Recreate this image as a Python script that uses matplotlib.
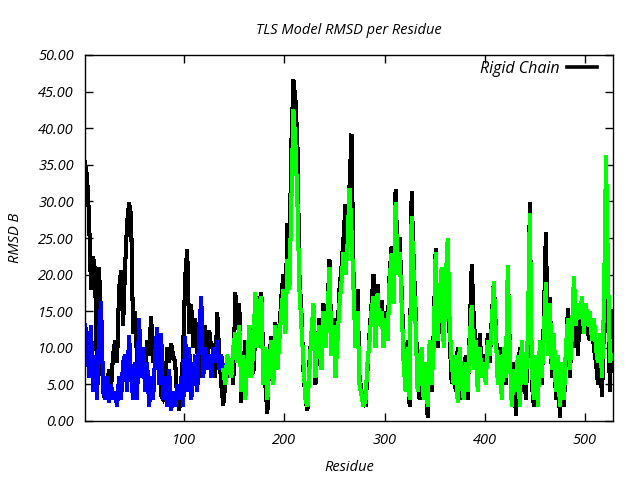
import numpy as np
import matplotlib
matplotlib.use("Agg")
import matplotlib.pyplot as plt
from matplotlib.ticker import FormatStrFormatter, MultipleLocator

# RMSD values, every second residue
black_rmsd = [
    35.4, 33.5, 28, 18, 22.5, 20.5, 6, 21, 13, 4,
    3, 5, 7, 4.5, 9, 11, 8, 18, 20.5, 13,
    21, 27, 29.8, 28, 12, 15, 8, 12, 7, 10,
    7, 11, 9, 14.3, 8, 11, 7, 9, 3.5, 3,
    4, 10, 8, 10.5, 9, 8, 3, 1.5, 4, 10,
    19.7, 23.4, 12, 15.9, 10, 14, 9.5, 8, 6, 12,
    13, 8, 12.4, 10, 10.5, 6, 14.8, 9, 5, 2.2,
    5, 9, 6, 8, 5, 17.6, 13, 16, 2.5, 7,
    11, 6, 13, 9, 6.5, 12, 17, 10, 17.5, 8,
    5, 1.1, 9, 11.5, 6, 13.5, 8, 12, 17, 20,
    14, 27, 22, 38, 46.6, 44, 38, 20, 15, 7,
    3, 1.5, 8, 12, 16, 5, 10, 14, 8, 16,
    11, 15, 22, 10, 14, 7, 12, 18, 21, 25,
    29.5, 24, 32, 39.2, 20, 12, 18, 6, 4, 2.5,
    2, 7, 12, 16, 20, 12, 18.6, 14, 16.5, 11.5,
    15, 12, 20, 23.8, 17, 31.6, 22, 25, 18, 10,
    5, 11, 2, 31.3, 22, 15, 5, 3, 8, 2.9,
    6, 0.5, 10, 4, 12, 23.5, 10, 15, 20, 12,
    18, 24.5, 11, 5.2, 9, 4, 10, 3, 8, 5,
    9, 3, 12, 21.4, 14, 10, 5, 12, 7, 9,
    6, 12, 8, 14, 19, 13, 6, 10, 4, 9,
    5, 21, 10, 3, 8, 0.8, 6, 10, 4, 8,
    3, 10, 29.8, 5, 2, 8, 3, 10, 5, 14,
    25.8, 10, 16.8, 6, 12, 3, 8, 0.5, 6, 2,
    9, 15.4, 6, 13, 10, 14, 9, 16, 12, 13,
    15, 12, 11, 13, 10, 8, 5, 9, 3.3, 13,
    23.8, 15, 4, 15,
]

blue_rmsd = [
    13, 12, 6, 13, 4, 9, 3, 12, 16.3, 5,
    3, 6, 2.5, 5, 3, 4, 2, 6, 3, 8,
    9, 4, 11.7, 6, 3, 8, 3, 14, 6, 10,
    4, 8, 2, 6, 3, 9, 12.7, 5, 12, 3,
    6, 2, 7, 1.5, 4, 2, 5, 3, 6, 2,
    11.5, 4, 10, 3, 6, 9, 4, 12, 17, 6,
    10, 7, 9, 6, 10, 8, 11, 7, 9, 7,
]

green_rmsd = [
    7,
    5, 9, 7, 6, 10, 12, 8, 13, 4, 9,
    3, 8, 13, 6, 10, 17.5, 10, 16, 17, 5,
    10, 3, 8, 11, 5, 13, 7, 11, 15, 18,
    12, 22, 18, 30, 42.5, 38, 30, 18, 13, 8,
    3, 2, 7, 12, 16, 6, 11, 13, 7, 15,
    10, 14, 21, 9, 13, 6, 11, 16, 19, 23,
    20, 24, 31.8, 26, 18, 10, 15, 5, 3.5, 2,
    3, 8, 11, 15, 17, 10, 17.4, 13, 15, 10,
    14, 11, 19, 22.9, 16, 29.8, 20, 23, 16, 8,
    4, 10, 3, 27.9, 20, 13, 4, 6, 10, 3,
    8, 2, 11, 5, 10, 23, 11, 17, 21, 10,
    19, 24.9, 13, 8, 5, 9, 2.5, 10, 5, 3,
    8, 4, 11, 15.8, 7, 11, 4, 10, 6, 8,
    5, 11, 9, 13, 19, 12, 5, 9, 3, 10,
    6, 21.3, 9, 2, 7, 4, 9, 2, 11, 6,
    5, 12, 28.4, 7, 3, 9, 2, 11, 6, 12,
    18.9, 9, 16, 7, 12, 4, 9, 2, 8, 3,
    10, 14, 7, 12, 19.8, 13, 16, 14, 17, 12,
    16, 13, 15, 11, 14, 10, 8, 12, 6, 16,
    36.3, 20, 8, 9,
]

black_res = np.arange(1, 2 * len(black_rmsd), 2)
blue_res = np.arange(1, 2 * len(blue_rmsd), 2)
green_res = np.arange(139, 139 + 2 * len(green_rmsd), 2)

FONT = "Open Sans"
FS = 10.5

fig = plt.figure(figsize=(6.4, 4.8), dpi=100)
ax = fig.add_axes([85 / 640, 59 / 480, 528 / 640, 366 / 480])

line_kw = dict(lw=2.2, antialiased=False, solid_joinstyle="miter")
ax.plot(black_res, black_rmsd, color="black", label="Rigid Chain", **line_kw)
ax.plot(blue_res, blue_rmsd, color="#0000ff", **line_kw)
ax.plot(green_res, green_rmsd, color="#00ff00", **line_kw)

ax.set_xlim(1, 528)
ax.set_ylim(0, 50)
ax.xaxis.set_major_locator(MultipleLocator(100))
ax.yaxis.set_major_locator(MultipleLocator(5))
ax.yaxis.set_major_formatter(FormatStrFormatter("%.2f"))

ax.tick_params(direction="in", top=True, right=True, length=6, width=1, pad=8)
ax.tick_params(axis="x", pad=9)
for lbl in ax.get_xticklabels() + ax.get_yticklabels():
    lbl.set_fontfamily(FONT)
    lbl.set_fontstyle("italic")
    lbl.set_fontsize(FS)
for sp in ax.spines.values():
    sp.set_linewidth(1)

ax.set_title("TLS Model RMSD per Residue", fontsize=FS, family=FONT,
             style="italic", pad=15)
ax.set_xlabel("Residue", fontsize=FS, family=FONT, style="italic", labelpad=8)
ax.set_ylabel("RMSD B", fontsize=FS, family=FONT, style="italic", labelpad=11)

leg = ax.legend(loc="upper right", bbox_to_anchor=(1 - 16 / 528, 1 - 6 / 366),
                frameon=False, markerfirst=False, borderpad=0, borderaxespad=0,
                handlelength=1.9, handletextpad=0.45,
                prop={"family": FONT, "style": "italic", "size": 11.5})
leg.get_lines()[0].set_linewidth(2.6)

fig.savefig("out.png", dpi=100)
